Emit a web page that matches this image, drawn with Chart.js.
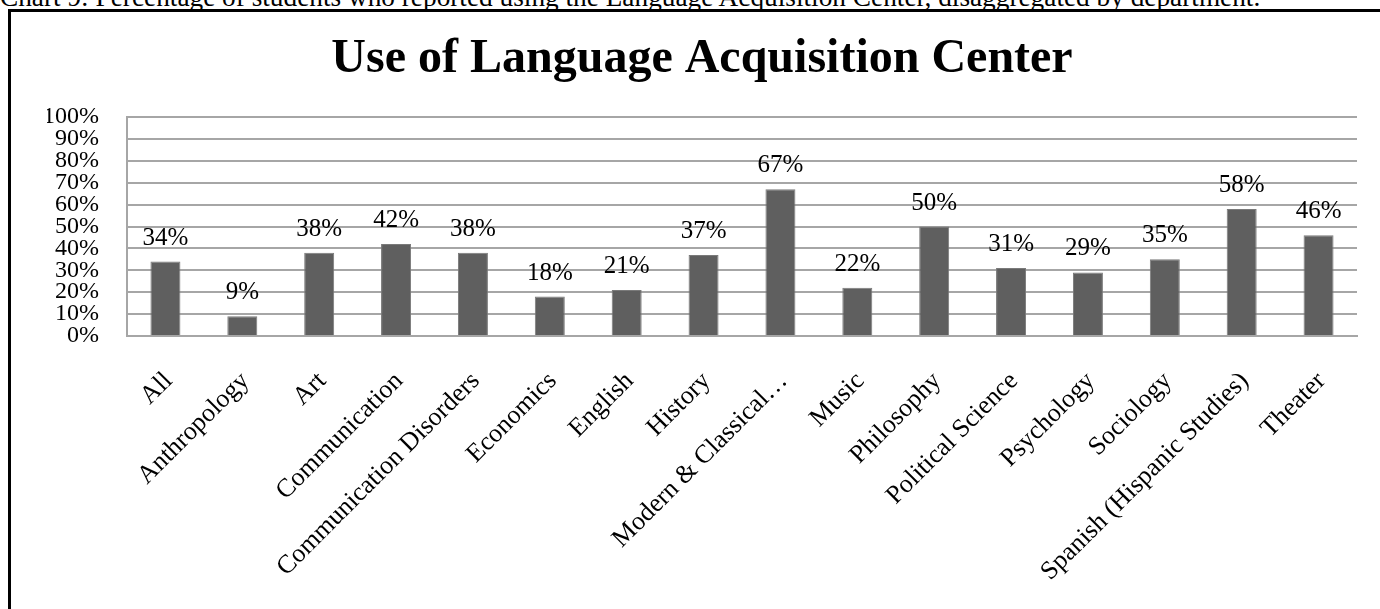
<!DOCTYPE html>
<html>
<head>
<meta charset="utf-8">
<script src="https://cdn.jsdelivr.net/npm/chart.js@4.4.1/dist/chart.umd.min.js"></script>
<style>
  html, body { margin: 0; padding: 0; background: #fff; overflow: hidden; }
  #caption {
    position: absolute; left: 0; top: -16px;
    font: 27.3px "Liberation Serif", "Times New Roman", serif;
    line-height: 1; white-space: nowrap; color: #000;
  }
  #frame {
    position: absolute; left: 8px; top: 9px; width: 1500px; height: 700px;
    border-top: 3px solid #000; border-left: 3px solid #000;
  }
  #wrap { position: absolute; left: 0; top: 0; width: 1380px; height: 609px; }
</style>
</head>
<body>
<div id="caption">Chart 9: Percentage of students who reported using the Language Acquisition Center, disaggregated by department.</div>
<div id="frame"></div>
<div id="wrap"><canvas id="chart" width="1380" height="609"></canvas></div>
<script>
// departments along the x axis
const departments = [
  "All", "Anthropology", "Art", "Communication", "Communication Disorders",
  "Economics", "English", "History", "Modern & Classical\u2026", "Music",
  "Philosophy", "Political Science", "Psychology", "Sociology",
  "Spanish (Hispanic Studies)", "Theater"
];
// percent who used the center
const usedPct = [34, 9, 38, 42, 38, 18, 21, 37, 67, 22, 50, 31, 29, 35, 58, 46];
const yTicks = [0, 10, 20, 30, 40, 50, 60, 70, 80, 90, 100];

const serif = "'Liberation Serif', 'Times New Roman', serif";
const gridGray = '#a6a6a6';

// value labels above each bar
const valueLabels = {
  id: 'valueLabels',
  afterDatasetsDraw(chart) {
    const ctx = chart.ctx;
    const meta = chart.getDatasetMeta(0);
    ctx.save();
    ctx.font = '25px ' + serif;
    ctx.fillStyle = '#000';
    ctx.textAlign = 'center';
    ctx.textBaseline = 'alphabetic';
    meta.data.forEach((bar, i) => {
      ctx.fillText(usedPct[i] + '%', bar.x, bar.y - 17);
    });
    ctx.restore();
  }
};

new Chart(document.getElementById('chart'), {
  type: 'bar',
  data: {
    labels: departments,
    datasets: [{
      data: usedPct,
      backgroundColor: '#5f5f5f',
      borderColor: '#7a7a7a',
      borderWidth: 1,
      categoryPercentage: 1,
      barPercentage: 0.39
    }]
  },
  options: {
    responsive: false,
    animation: false,
    layout: { padding: { left: 47, right: 23, top: 12, bottom: 0 } },
    plugins: {
      legend: { display: false },
      tooltip: { enabled: false },
      title: {
        display: true,
        text: 'Use of Language Acquisition Center',
        color: '#000',
        font: { family: serif, size: 48, weight: 'bold', lineHeight: 1.2 },
        padding: { top: 19, bottom: 28.4 }
      }
    },
    scales: {
      y: {
        min: 0,
        max: 100,
        afterBuildTicks: s => { s.ticks = yTicks.map(v => ({ value: v })); },
        afterFit: s => { s.width = 80; },
        grid: { color: gridGray, lineWidth: 2, drawTicks: false },
        border: { color: gridGray, width: 2 },
        ticks: {
          autoSkip: false,
          callback: v => v + '%',
          color: '#000',
          font: { family: serif, size: 24 },
          padding: 28
        }
      },
      x: {
        afterFit: s => { s.height = 273; },
        grid: { display: false, drawTicks: false },
        border: { color: gridGray, width: 2 },
        ticks: {
          autoSkip: false,
          maxRotation: 45,
          minRotation: 45,
          color: '#000',
          font: { family: serif, size: 26 },
          padding: 30,
          labelOffset: 3
        }
      }
    }
  },
  plugins: [valueLabels]
});
</script>
</body>
</html>
